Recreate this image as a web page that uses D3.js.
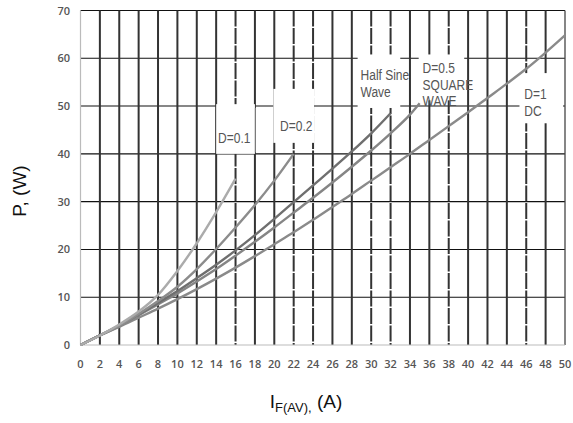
<!DOCTYPE html>
<html><head><meta charset="utf-8">
<script src="https://cdn.jsdelivr.net/npm/d3@7"></script>
<style>body{margin:0;background:#fff}svg{display:block}</style>
</head><body><svg id="c" width="573" height="423"></svg>
<script>
const xTicks = d3.range(0, 51, 2);
const yTicks = [0, 10, 20, 30, 40, 50, 60, 70];
const dashedX = [16, 22, 24, 30, 32, 38, 46];

const xD01 = [0, 2, 4, 6, 8, 10, 12, 14, 16];
const pD01 = [0, 2, 4.3, 7, 10.5, 15.5, 21.3, 27.8, 34.8];
const xD02 = [0, 2, 4, 6, 8, 10, 12, 14, 16, 18, 20, 22];
const pD02 = [0, 2, 4, 6.5, 9.2, 12.2, 15.9, 20.1, 24.6, 29.3, 34.4, 40];
const xSine = [0, 2, 4, 6, 8, 10, 12, 14, 16, 18, 20, 22, 24, 26, 28, 30, 32];
const pSine = [0, 2, 4.1, 6.4, 8.8, 11.3, 14, 16.8, 19.8, 23, 26.4, 29.9, 33.4, 36.9, 40.5, 44.3, 48.5];
const xSq = [0, 2, 4, 6, 8, 10, 12, 14, 16, 18, 20, 22, 24, 26, 28, 30, 32, 34, 35];
const pSq = [0, 2, 4, 6.2, 8.5, 10.8, 13.3, 15.9, 18.7, 21.6, 24.6, 27.7, 30.8, 34, 37.3, 40.7, 44.3, 48.2, 50.6];
const xDC = d3.range(0, 51, 2);
const pDC = [0, 2, 3.8, 5.7, 7.6, 9.6, 11.7, 13.9, 16.2, 18.6, 21.1, 23.6, 26.2, 28.9, 31.6, 34.4, 37.2, 40, 42.9, 45.8, 48.7, 51.7, 54.7, 57.8, 61.2, 64.8];

const svg = d3.select("#c");
const x = d3.scaleLinear().domain([0, 50]).range([80.5, 565]);
const y = d3.scaleLinear().domain([0, 70]).range([345, 10.5]);

// horizontal grid
svg.append("g").selectAll("line").data(yTicks.filter(v => v > 0)).join("line")
  .attr("x1", x(0)).attr("x2", x(50)).attr("y1", d => y(d)).attr("y2", d => y(d))
  .attr("stroke", "#111").attr("stroke-width", 1.1);
// vertical grid
svg.append("g").selectAll("line").data(xTicks.filter(v => v > 0)).join("line")
  .attr("x1", d => x(d)).attr("x2", d => x(d)).attr("y1", y(70)).attr("y2", y(0))
  .attr("stroke", d => d === 50 ? "#444" : "#333").attr("stroke-width", d => d === 50 ? 1.3 : 2)
  .attr("stroke-dasharray", d => dashedX.includes(d) ? "16,1.5" : null);
// axes lines (light)
svg.append("line").attr("x1", x(0)).attr("x2", x(0)).attr("y1", y(70)).attr("y2", y(0)).attr("stroke", "#bbb").attr("stroke-width", 1.2);
svg.append("line").attr("x1", x(0)).attr("x2", x(50)).attr("y1", y(0)).attr("y2", y(0)).attr("stroke", "#bbb").attr("stroke-width", 1.2);

// label boxes (white areas masking grid)
const boxes = [
  [14.0, 18.0, 50.4, 40.0],
  [19.9, 24.1, 53.6, 42.3],
  [28.6, 33.0, 60.8, 49.6],
  [34.9, 39.6, 60.8, 51.2],
  [45.3, 49.8, 56.9, 46.4]
];
svg.append("g").selectAll("rect").data(boxes).join("rect")
  .attr("x", d => x(d[0])).attr("width", d => x(d[1]) - x(d[0]))
  .attr("y", d => y(d[2])).attr("height", d => y(d[3]) - y(d[2]))
  .attr("fill", "#fff");
svg.append("line").attr("x1", x(18)).attr("x2", x(18)).attr("y1", y(49.6)).attr("y2", y(40.3)).attr("stroke", "#ccc");

// curves
const line = d3.line().x(d => x(d[0])).y(d => y(d[1])).curve(d3.curveMonotoneX);
const series = [
  [xDC, pDC, "#8a8a8a"],
  [xSq, pSq, "#858585"],
  [xSine, pSine, "#6f6f6f"],
  [xD02, pD02, "#8c8c8c"],
  [xD01, pD01, "#ababab"]
];
series.forEach(s => {
  svg.append("path").datum(s[0].map((v, i) => [v, s[1][i]]))
    .attr("d", line).attr("fill", "none").attr("stroke", s[2]).attr("stroke-width", 2.4);
});

// curve labels
const lf = "'Liberation Sans',Arial,sans-serif";
const labels = [
  [x(14.2), 143, "D=0.1"],
  [x(20.6), 131, "D=0.2"],
  [x(28.9), 80, "Half Sine"],
  [x(28.9), 97, "Wave"],
  [x(35.3), 73, "D=0.5"],
  [x(35.3), 90, "SQUARE"],
  [x(35.3), 106, "WAVE"],
  [x(45.8), 99, "D=1"],
  [x(45.8), 116, "DC"]
];
svg.append("g").selectAll("text").data(labels).join("text")
  .attr("transform", d => `translate(${d[0]},${d[1]}) scale(0.8,1)`).text(d => d[2])
  .attr("font-family", lf).attr("font-size", 15).attr("fill", "#555");

// tick labels
const tf = "'Open Sans','DejaVu Sans',sans-serif";
svg.append("g").selectAll("text").data(yTicks).join("text")
  .attr("x", 70).attr("y", d => y(d) + 4).attr("text-anchor", "end").text(d => d)
  .attr("font-family", tf).attr("font-size", 11).attr("font-weight", 600).attr("fill", "#555");
svg.append("g").selectAll("text").data(xTicks).join("text")
  .attr("x", d => x(d)).attr("y", 368).attr("text-anchor", "middle").text(d => d)
  .attr("font-family", tf).attr("font-size", 11).attr("font-weight", 600).attr("fill", "#555");

// axis titles
svg.append("text").attr("transform", "translate(26,191) rotate(-90)").attr("text-anchor", "middle")
  .attr("font-family", "'Liberation Sans',Arial,sans-serif").attr("font-size", 19).attr("fill", "#111").text("P, (W)");
const xt = svg.append("text").attr("x", 306).attr("y", 408).attr("text-anchor", "middle")
  .attr("font-family", "'Liberation Sans',Arial,sans-serif").attr("font-size", 19).attr("fill", "#111");
xt.append("tspan").text("I");
xt.append("tspan").attr("font-size", 13).attr("dy", 4).text("F(AV),");
xt.append("tspan").attr("dy", -4).text(" (A)");
</script></body></html>
